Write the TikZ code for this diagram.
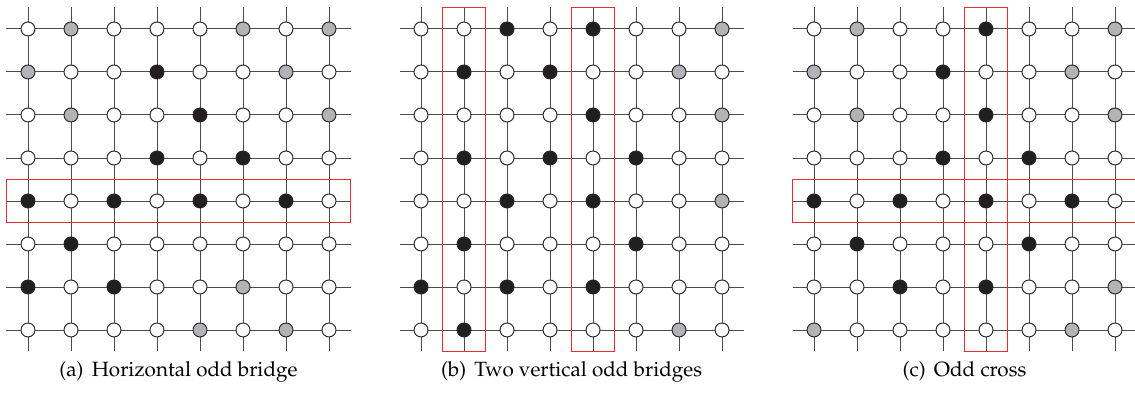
\documentclass[tikz,border=0pt]{standalone}
\usepackage{tikz}
\usetikzlibrary{calc,backgrounds}
\definecolor{sitew}{HTML}{FFFFFF}
\definecolor{siteg}{HTML}{B1B3B6}
\definecolor{siteb}{HTML}{231F20}
\definecolor{bridgered}{HTML}{EE2A33}

% one 8x8 lattice: #1 = name, #2 = x of first column, #3 = rows (w/g/b)
\newcommand{\oddgrid}[3]{%
  \foreach \rowlist [count=\rw] in {#3} {
    \foreach \st [count=\cl] in \rowlist {
      \node[site, fill=site\st] (#1-\rw-\cl) at (#2+\cl-1, 0.326-\rw) {};
    }
  }
  \begin{scope}[on background layer]
    \foreach \i in {1,...,8} {
      \draw[gridline] ($(#1-\i-1.center)+(-0.5,0)$) -- ($(#1-\i-8.center)+(0.5,0)$);
      \draw[gridline] ($(#1-1-\i.center)+(0,0.5)$) -- ($(#1-8-\i.center)+(0,-0.5)$);
    }
  \end{scope}
}

\begin{document}
\begin{tikzpicture}[x=0.71cm, y=0.71cm,
    site/.style={circle, draw=black!85, line width=0.45pt, inner sep=0pt, minimum size=0.231cm},
    gridline/.style={draw=black!70, line width=0.45pt},
    bridge/.style={draw=bridgered, line width=0.9pt},
    caption/.style={anchor=base, font=\fontencoding{T1}\fontfamily{ppl}\fontsize{9.7}{12}\selectfont}]
  \useasboundingbox (0,0) rectangle (26.395,-9.14);

  % (a) horizontal odd bridge
  \oddgrid{a}{0.651}{
    {w,g,w,w,w,g,w,g},
    {g,w,w,b,w,w,g,w},
    {w,g,w,w,b,w,w,g},
    {w,w,w,b,w,b,w,w},
    {b,w,b,w,b,w,b,w},
    {w,b,w,w,w,w,w,w},
    {b,w,b,w,w,g,w,w},
    {w,w,w,w,g,w,g,w}}
  \draw[bridge] ($(a-5-1.center)+(-0.5,0.5)$) rectangle ($(a-5-8.center)+(0.5,-0.5)$);
  \node[caption] (cap-a) at (4.151,-8.767) {(a)\hspace{0.4em}Horizontal odd bridge};

  % (b) two vertical odd bridges
  \oddgrid{b}{9.791}{
    {w,w,b,w,b,w,w,g},
    {w,b,w,b,w,w,g,w},
    {w,w,w,w,b,w,w,g},
    {w,b,w,b,w,b,w,w},
    {w,w,b,w,b,w,w,g},
    {w,b,w,w,w,b,w,w},
    {b,w,b,w,b,w,w,w},
    {w,b,w,w,w,w,g,w}}
  \draw[bridge] ($(b-1-2.center)+(-0.5,0.5)$) rectangle ($(b-8-2.center)+(0.5,-0.5)$);
  \draw[bridge] ($(b-1-5.center)+(-0.5,0.5)$) rectangle ($(b-8-5.center)+(0.5,-0.5)$);
  \node[caption] (cap-b) at (13.291,-8.767) {(b)\hspace{0.4em}Two vertical odd bridges};

  % (c) odd cross
  \oddgrid{c}{18.93}{
    {w,g,w,w,b,w,w,g},
    {g,w,w,b,w,w,g,w},
    {w,g,w,w,b,w,w,g},
    {w,w,w,b,w,b,w,w},
    {b,w,b,w,b,w,b,w},
    {w,b,w,w,w,b,w,w},
    {w,w,b,w,b,w,w,g},
    {g,w,w,w,w,w,g,w}}
  \draw[bridge] ($(c-5-1.center)+(-0.5,0.5)$) rectangle ($(c-5-8.center)+(0.5,-0.5)$);
  \draw[bridge] ($(c-1-5.center)+(-0.5,0.5)$) rectangle ($(c-8-5.center)+(0.5,-0.5)$);
  \node[caption] (cap-c) at (22.43,-8.767) {(c)\hspace{0.4em}Odd cross};
\end{tikzpicture}
\end{document}
